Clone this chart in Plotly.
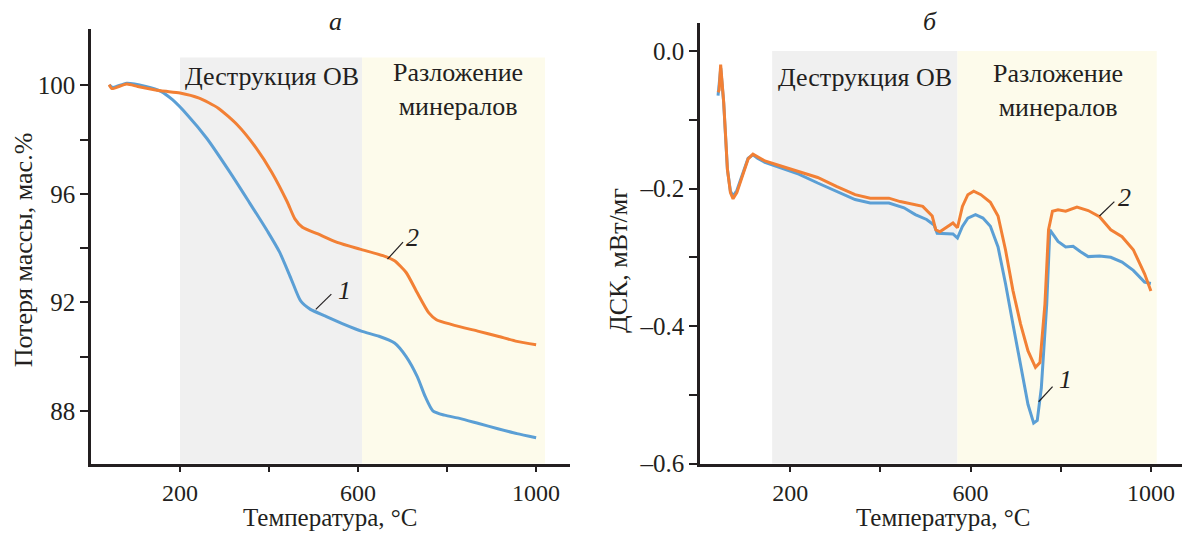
import plotly.graph_objects as go

# ---------------- data ----------------
# (a) TG: mass loss, wt.%
tg_t1 = [41, 49, 80, 123, 157, 183, 217, 260, 312, 355, 398, 424, 450, 471, 493, 527, 570, 609,
         647, 682, 708, 733, 751, 768, 794, 828, 871, 914, 957, 1000]
tg_m1 = [100.02, 99.92, 100.08, 99.96, 99.78, 99.47, 98.9, 98.05, 96.8, 95.7, 94.58, 93.84, 92.85,
         92.05, 91.74, 91.49, 91.18, 90.93, 90.75, 90.5, 90.0, 89.26, 88.52, 88.0, 87.84, 87.72,
         87.53, 87.34, 87.16, 87.01]
tg_t2 = [41, 47, 80, 105, 157, 200, 243, 286, 329, 372, 406, 441, 458, 475, 510, 553, 604, 656,
         682, 708, 733, 759, 776, 811, 871, 914, 957, 1000]
tg_m2 = [100.03, 99.88, 100.05, 99.96, 99.8, 99.72, 99.53, 99.16, 98.54, 97.67, 96.8, 95.7, 95.08,
         94.77, 94.52, 94.21, 93.96, 93.72, 93.53, 93.1, 92.35, 91.61, 91.36, 91.18, 90.93, 90.75,
         90.56, 90.44]

# (b) DSC, mW/mg
dsc_t1 = [40, 42.5, 46, 52.5, 56.7, 60.8, 67.5, 73.3, 81.7, 94.2, 106.7, 117.5, 127.5, 144, 177.5,
          219, 261, 302.5, 344, 377.5, 419, 452.5, 477.5, 502.5, 519, 526, 544, 561, 571, 582, 594,
          611, 627.5, 644, 661, 677.5, 694, 711, 727.5, 740, 748, 757, 769, 776, 794, 811, 827.5,
          844, 861, 886, 911, 936, 961, 986, 1000]
dsc_d1 = [-0.065, -0.05, -0.025, -0.075, -0.124, -0.172, -0.204, -0.211, -0.203, -0.18, -0.156,
          -0.151, -0.156, -0.162, -0.17, -0.179, -0.192, -0.204, -0.216, -0.221, -0.221, -0.228,
          -0.238, -0.245, -0.253, -0.265, -0.265, -0.266, -0.272, -0.255, -0.243, -0.238, -0.243,
          -0.255, -0.285, -0.338, -0.397, -0.456, -0.514, -0.541, -0.537, -0.49, -0.368, -0.26,
          -0.277, -0.285, -0.284, -0.292, -0.299, -0.298, -0.3, -0.307, -0.319, -0.336, -0.338]
dsc_t2 = [40, 42.5, 45.8, 52.5, 56.7, 60.8, 67.5, 73.3, 81.7, 94.2, 106.7, 117.5, 127.5, 144,
          177.5, 219, 261, 302.5, 344, 377.5, 419, 444, 469, 494, 515, 523, 532, 548, 561, 571,
          582, 594, 607, 623, 644, 661, 677.5, 694, 711, 727.5, 744, 754, 765, 773, 781.7, 794,
          811, 836, 861, 886, 911, 936, 961, 986, 1000]
dsc_d2 = [-0.06, -0.057, -0.02, -0.074, -0.123, -0.172, -0.206, -0.215, -0.206, -0.182, -0.157,
          -0.15, -0.154, -0.16, -0.167, -0.175, -0.184, -0.197, -0.209, -0.214, -0.214, -0.219,
          -0.223, -0.226, -0.24, -0.26, -0.263, -0.256, -0.25, -0.257, -0.226, -0.209, -0.204,
          -0.209, -0.22, -0.24, -0.289, -0.348, -0.397, -0.436, -0.46, -0.453, -0.368, -0.26,
          -0.233, -0.231, -0.233, -0.227, -0.232, -0.241, -0.26, -0.27, -0.289, -0.324, -0.349]

# shaded regions (°C)
zone_a = [200, 609, 1020]
zone_b = [160, 571, 1013]
zone_names = ["Деструкция ОВ", "Разложение<br>минералов"]

# ticks
a_xticks = [200, 400, 600, 800, 1000]
a_xlabels = ["200", "", "600", "", "1000"]
a_yticks = [88, 90, 92, 94, 96, 98, 100]
a_ylabels = ["88", "", "92", "", "96", "", "100"]
b_xticks = [200, 400, 600, 800, 1000]
b_xlabels = ["200", "", "600", "", "1000"]
b_yticks = [-0.6, -0.5, -0.4, -0.3, -0.2, -0.1, 0.0]
b_ylabels = ["–0.6", "", "–0.4", "", "–0.2", "", "0.0"]

# ---------------- style ----------------
BLUE = "#5b9fd5"
ORANGE = "#f28035"
GRAY = "#f0f0f0"
CREAM = "#fdfbeb"
AX = "#231f20"
FONT = "Liberation Serif, Times New Roman, DejaVu Serif, serif"
LW = 3

fig = go.Figure()
fig.add_trace(go.Scatter(x=tg_t1, y=tg_m1, mode="lines", line=dict(color=BLUE, width=LW, shape="spline", smoothing=0.6),
                         xaxis="x", yaxis="y", showlegend=False))
fig.add_trace(go.Scatter(x=tg_t2, y=tg_m2, mode="lines", line=dict(color=ORANGE, width=LW, shape="spline", smoothing=0.6),
                         xaxis="x", yaxis="y", showlegend=False))
fig.add_trace(go.Scatter(x=dsc_t1, y=dsc_d1, mode="lines", line=dict(color=BLUE, width=LW),
                         xaxis="x2", yaxis="y2", showlegend=False))
fig.add_trace(go.Scatter(x=dsc_t2, y=dsc_d2, mode="lines", line=dict(color=ORANGE, width=LW),
                         xaxis="x2", yaxis="y2", showlegend=False))

a_yr = [86.05, 102.07]
b_yr = [-0.6, 0.04]

shapes = [
    dict(type="rect", xref="x", yref="y", x0=zone_a[0], x1=zone_a[1], y0=a_yr[0], y1=101.03,
         fillcolor=GRAY, line_width=0, layer="below"),
    dict(type="rect", xref="x", yref="y", x0=zone_a[1], x1=zone_a[2], y0=a_yr[0], y1=101.03,
         fillcolor=CREAM, line_width=0, layer="below"),
    dict(type="rect", xref="x2", yref="y2", x0=zone_b[0], x1=zone_b[1], y0=b_yr[0], y1=0.0,
         fillcolor=GRAY, line_width=0, layer="below"),
    dict(type="rect", xref="x2", yref="y2", x0=zone_b[1], x1=zone_b[2], y0=b_yr[0], y1=0.0,
         fillcolor=CREAM, line_width=0, layer="below"),
    # leader lines for curve labels
    dict(type="line", xref="x", yref="y", x0=505, y0=91.74, x1=540, y1=92.3, line=dict(color=AX, width=1.2)),
    dict(type="line", xref="x", yref="y", x0=666, y0=93.59, x1=701, y1=94.22, line=dict(color=AX, width=1.2)),
    dict(type="line", xref="x2", yref="y2", x0=751, y0=-0.51, x1=782, y1=-0.488, line=dict(color=AX, width=1.2)),
    dict(type="line", xref="x2", yref="y2", x0=886, y0=-0.24, x1=919, y1=-0.219, line=dict(color=AX, width=1.2)),
]

tf = dict(family=FONT, size=26, color=AX)
C = dict(showarrow=False, font=tf, xanchor="center", yanchor="middle")
T = dict(showarrow=False, font=dict(family=FONT, size=25, color=AX), xanchor="center", yanchor="middle")
ann = [
    dict(x=406, y=100.33, xref="x", yref="y", text=zone_names[0], **C),
    dict(x=824, y=99.83, xref="x", yref="y", text=zone_names[1], **C),
    dict(x=367, y=-0.038, xref="x2", yref="y2", text=zone_names[0], **C),
    dict(x=794, y=-0.058, xref="x2", yref="y2", text=zone_names[1], **C),
    dict(x=570, y=92.45, xref="x", yref="y", text="<i>1</i>", **C),
    dict(x=722, y=94.4, xref="x", yref="y", text="<i>2</i>", **C),
    dict(x=811, y=-0.478, xref="x2", yref="y2", text="<i>1</i>", **C),
    dict(x=941, y=-0.213, xref="x2", yref="y2", text="<i>2</i>", **C),
    # panel letters
    dict(x=335 / 1182, y=1 - 22 / 542, xref="paper", yref="paper", text="<i>а</i>", **C),
    dict(x=930 / 1182, y=1 - 22 / 542, xref="paper", yref="paper", text="<i>б</i>", **C),
    # axis titles
    dict(x=330 / 1182, y=1 - 531 / 542, xref="paper", yref="paper", text="Температура, °С", **T),
    dict(x=943 / 1182, y=1 - 531 / 542, xref="paper", yref="paper", text="Температура, °С", **T),
    dict(x=23 / 1182, y=1 - 257 / 542, xref="paper", yref="paper", text="Потеря массы, мас.%",
         textangle=-90, **C),
    dict(x=618 / 1182, y=1 - 268 / 542, xref="paper", yref="paper", text="ДСК, мВт/мг",
         textangle=-90, **C),
]

axis_common = dict(showline=True, linecolor=AX, linewidth=2.5, ticks="outside", tickcolor=AX, tickwidth=2,
                   showgrid=False, zeroline=False, tickmode="array",
                   tickfont=dict(family=FONT, size=25, color=AX))

fig.update_layout(
    width=1182, height=542, margin=dict(l=0, r=0, t=0, b=0),
    paper_bgcolor="white", plot_bgcolor="white",
    font=dict(family=FONT, color=AX),
    xaxis=dict(domain=[91 / 1182, 569.5 / 1182], range=[0, 1075], anchor="y", tickvals=a_xticks,
               ticktext=a_xlabels, ticklen=6, **axis_common),
    yaxis=dict(domain=[1 - 476 / 542, 1 - 30 / 542], range=a_yr, anchor="x", tickvals=a_yticks,
               ticktext=a_ylabels, ticklen=8, **axis_common),
    xaxis2=dict(domain=[700 / 1182, 1.0], range=[0, 1069], anchor="y2", tickvals=b_xticks,
                ticktext=b_xlabels, ticklen=6, **axis_common),
    yaxis2=dict(domain=[1 - 476 / 542, 1 - 24 / 542], range=b_yr, anchor="x2", tickvals=b_yticks,
                ticktext=b_ylabels, ticklen=8, **axis_common),
    shapes=shapes, annotations=ann,
)
fig.update_xaxes(tickfont_size=24)

fig.write_html("out.html")
